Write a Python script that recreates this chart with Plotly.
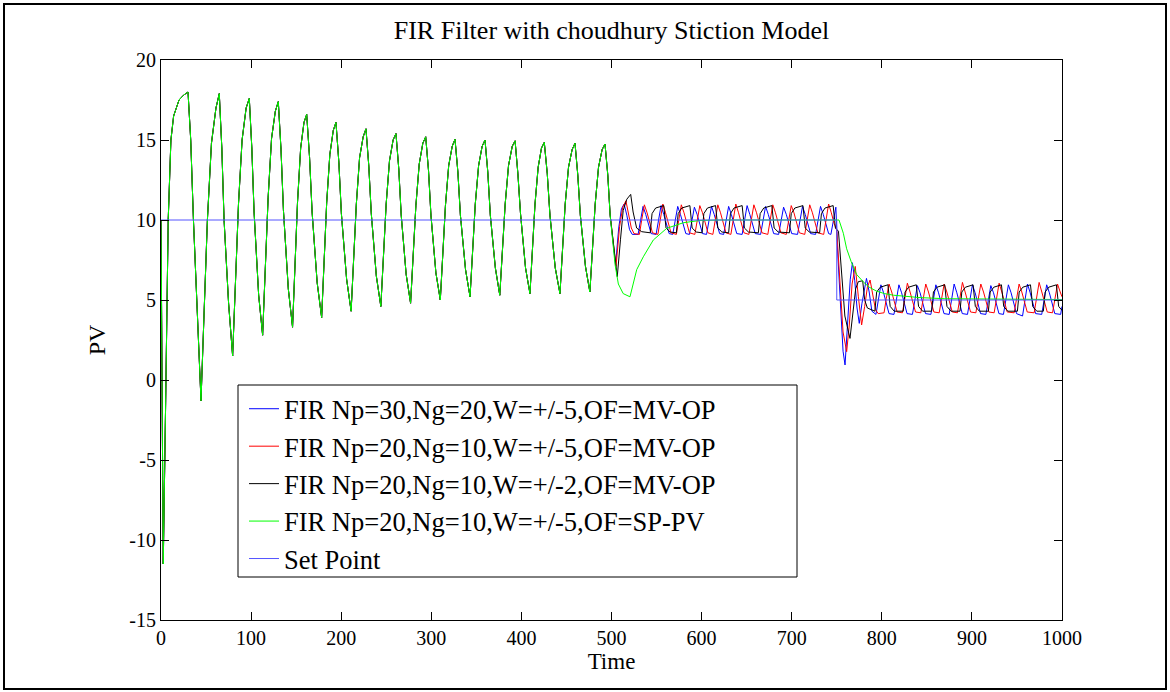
import plotly.graph_objects as go

# ---------------- data ----------------
# Part shared by all four controller runs (t <= 498.5), the curves coincide there
COMMON_T = [0, 2.5, 5, 8, 11, 14, 20, 25, 30, 33, 36, 40, 44.4,
            48, 51.5, 56, 61, 64.7, 67.5, 70, 75, 79.5,
            82.6, 86, 90, 94.5, 98, 100.8, 103.3, 108.4, 112.8,
            115.8, 118.9, 122.7, 126.9, 130.2, 133.2, 135.9, 141.3, 146,
            148.7, 151.5, 155, 158.7, 161.7, 164.9, 167.7, 173.3, 178.3,
            181, 183.9, 187.4, 191.2, 194.2, 197.4, 200.2, 206, 211,
            213.8, 216.8, 220.4, 224.4, 227.5, 230.6, 233.4, 239, 244,
            246.9, 249.9, 253.6, 257.6, 260.8, 263.9, 266.6, 272.1, 277,
            279.9, 282.9, 286.6, 290.6, 293.8, 296.9, 299.6, 305.1, 310,
            312.8, 315.7, 319.3, 323.2, 326.3, 329.5, 332.3, 338, 343,
            345.8, 348.8, 352.5, 356.4, 359.6, 362.7, 365.5, 371.1, 376,
            378.9, 382, 385.7, 389.8, 393, 396.1, 399, 404.6, 409.5,
            412.2, 415.1, 418.6, 422.3, 425.4, 428.7, 431.7, 437.6, 442.8,
            445.6, 448.6, 452.3, 456.3, 459.5, 462.6, 465.4, 471.1, 476,
            478.9, 481.9, 485.6, 489.6, 492.8, 495.9, 498.5]
COMMON_V = [10, -11.5, -2, 10, 15, 16.5, 17.5, 17.8, 18.0, 15, 10, 4.5, -1.3,
            4.5, 10, 14.8, 17.0, 17.9, 14.5, 10, 4.8, 1.5,
            6.3, 11.0, 15.0, 17.0, 17.6, 14.5, 10.5, 5.3, 2.8,
            7.2, 11.4, 15.1, 16.8, 17.4, 14.4, 10.6, 5.7, 3.3,
            7.3, 11.1, 14.5, 16.1, 16.6, 13.9, 10.5, 6.1, 3.9,
            7.6, 11.1, 14.1, 15.6, 16.1, 13.6, 10.4, 6.3, 4.3,
            7.7, 11.0, 13.9, 15.2, 15.7, 13.4, 10.4, 6.5, 4.6,
            7.8, 11.0, 13.7, 15.0, 15.4, 13.2, 10.3, 6.6, 4.8,
            7.9, 10.9, 13.5, 14.8, 15.2, 13.1, 10.3, 6.7, 5.0,
            8.0, 10.9, 13.4, 14.6, 15.05, 13.0, 10.3, 6.9, 5.2,
            8.1, 11.0, 13.4, 14.6, 15.0, 13.0, 10.3, 7.0, 5.3,
            8.2, 11.0, 13.4, 14.6, 14.95, 12.9, 10.4, 7.0, 5.4,
            8.2, 11.0, 13.3, 14.5, 14.85, 12.9, 10.3, 7.0, 5.4,
            8.2, 11.0, 13.3, 14.4, 14.8, 12.8, 10.3, 7.1, 5.5,
            8.3, 11.0, 13.3, 14.4, 14.75, 12.8, 10.3]

BLUE_T = [501.5, 504.5, 508, 511, 514, 517, 520, 523,
          529.5, 532, 534, 535, 538, 541, 544,
          549.5, 552, 554, 555, 558, 561, 564,
          568, 570.5, 572.5, 573.5, 576.5, 579.5, 582.5,
          586.5, 589, 591, 592, 595, 598, 601,
          605.5, 608, 610, 611, 614, 617, 620,
          624.5, 627, 629, 630, 633, 636, 639,
          645, 647.5, 649.5, 650.5, 653.5, 656.5, 659.5,
          665.5, 668, 670, 671, 674, 677, 680,
          685.5, 688, 690, 691, 694, 697, 700,
          706.5, 709, 711, 712, 715, 718, 721,
          726.5, 729, 731, 732, 735, 738, 741,
          743.5, 746, 748, 749, 751, 754, 757, 759.2, 762, 765, 767.4, 770,
          772.5, 775, 778, 781, 783, 786, 789,
          793.5, 796, 798, 799, 802, 805, 808,
          813.5, 816, 818, 819, 822, 825, 828,
          834, 836.5, 838.5, 839.5, 842.5, 845.5, 848.5,
          854.5, 857, 859, 860, 863, 866, 869,
          874.8, 877.3, 879.3, 880.3, 883.3, 886.3, 889.3,
          895.1, 897.6, 899.6, 900.6, 903.6, 906.6, 909.6,
          915.5, 918, 920, 921, 924, 927, 930,
          935, 937.5, 939.5, 940.5, 943.5, 946.5, 949.5,
          956.2, 958.7, 960.7, 961.7, 964.7, 967.7, 970.7,
          977.5, 980, 982, 983, 986, 989, 992,
          998.5, 1000]
BLUE_V = [8.7, 7.2, 9.5, 10.7, 11.0, 10.3, 9.4, 9.1,
          9.1, 10.0, 10.7, 10.85, 10.35, 9.75, 9.15,
          9.1, 10.0, 10.7, 10.9, 10.35, 9.75, 9.15,
          9.1, 10.0, 10.7, 10.85, 10.35, 9.75, 9.15,
          9.1, 10.0, 10.7, 10.8, 10.35, 9.75, 9.15,
          9.1, 10.0, 10.7, 10.85, 10.35, 9.75, 9.15,
          9.1, 10.0, 10.7, 10.85, 10.35, 9.75, 9.15,
          9.1, 10.0, 10.7, 10.9, 10.35, 9.75, 9.15,
          9.1, 10.0, 10.7, 10.85, 10.35, 9.75, 9.15,
          9.1, 10.0, 10.7, 10.8, 10.35, 9.75, 9.15,
          9.1, 10.0, 10.7, 10.85, 10.35, 9.75, 9.15,
          9.1, 10.0, 10.7, 10.85, 10.35, 9.75, 9.15,
          9.1, 10.0, 10.6, 10.8, 8.0, 4.5, 1.8, 0.94, 3.5, 6.3, 7.33, 6.2,
          4.5, 3.54, 4.8, 5.9, 6.35, 5.5, 4.3,
          4.1, 5.0, 5.8, 5.95, 5.45, 4.8, 4.15,
          4.1, 5.0, 5.8, 5.95, 5.45, 4.8, 4.15,
          4.1, 5.0, 5.8, 5.9, 5.45, 4.8, 4.15,
          4.1, 5.0, 5.8, 5.95, 5.45, 4.8, 4.15,
          4.1, 5.0, 5.8, 6.0, 5.45, 4.8, 4.15,
          4.1, 5.0, 5.8, 5.95, 5.45, 4.8, 4.15,
          4.1, 5.0, 5.8, 5.9, 5.45, 4.8, 4.15,
          4.1, 5.0, 5.8, 5.95, 5.45, 4.8, 4.15,
          4.0, 5.0, 5.8, 6.0, 5.45, 4.8, 4.15,
          4.1, 5.0, 5.8, 5.95, 5.45, 4.8, 4.15,
          4.1, 4.6]

RED_T = [501.5, 505, 509, 512.5, 516, 519, 522, 525,
         531, 533.5, 535.5, 536.5, 539.5, 542.5, 545.5,
         551.5, 554, 556, 557, 560, 563, 566,
         572, 574.5, 576.5, 577.5, 580.5, 583.5, 586.5,
         592.5, 595, 597, 598, 601, 604, 607,
         612.5, 615, 617, 618, 621, 624, 627,
         632.5, 635, 637, 638, 641, 644, 647,
         652.5, 655, 657, 658, 661, 664, 667,
         673.5, 676, 678, 679, 682, 685, 688,
         694, 696.5, 698.5, 699.5, 702.5, 705.5, 708.5,
         714.5, 717, 719, 720, 723, 726, 729,
         735.5, 738, 740, 741, 744, 747,
         750, 753, 757, 761, 764, 767, 770.5, 774, 777.6, 781, 784, 787,
         790, 793, 796,
         802.5, 805, 807, 808, 811, 814, 817,
         822.9, 825.4, 827.4, 828.4, 831.4, 834.4, 837.4,
         843.3, 845.8, 847.8, 848.8, 851.8, 854.8, 857.8,
         863.7, 866.2, 868.2, 869.2, 872.2, 875.2, 878.2,
         884, 886.5, 888.5, 889.5, 892.5, 895.5, 898.5,
         904.4, 906.9, 908.9, 909.9, 912.9, 915.9, 918.9,
         924.7, 927.2, 929.2, 930.2, 933.2, 936.2, 939.2,
         946.9, 949.4, 951.4, 952.4, 955.4, 958.4, 961.4,
         969.1, 971.6, 973.6, 974.6, 977.6, 980.6, 983.6,
         989.5, 992, 994, 995, 998, 1000]
RED_V = [8.8, 7.1, 9.6, 10.8, 11.2, 10.4, 9.5, 9.15,
         9.1, 10.0, 10.8, 10.95, 10.45, 9.8, 9.2,
         9.1, 10.0, 10.8, 11.0, 10.45, 9.8, 9.2,
         9.1, 10.0, 10.8, 10.95, 10.45, 9.8, 9.2,
         9.1, 10.0, 10.8, 10.9, 10.45, 9.8, 9.2,
         9.1, 10.0, 10.8, 10.95, 10.45, 9.8, 9.2,
         9.1, 10.0, 10.8, 11.0, 10.45, 9.8, 9.2,
         9.1, 10.0, 10.8, 10.95, 10.45, 9.8, 9.2,
         9.1, 10.0, 10.8, 10.95, 10.45, 9.8, 9.2,
         9.1, 10.0, 10.8, 10.9, 10.45, 9.8, 9.2,
         9.1, 10.0, 10.8, 10.95, 10.45, 9.8, 9.2,
         9.1, 10.0, 10.8, 11.0, 10.45, 9.8,
         9.35, 6.5, 3.0, 1.77, 3.5, 6.0, 7.1, 5.2, 3.44, 4.6, 5.8, 6.25,
         5.3, 4.4, 4.15,
         4.2, 5.1, 5.85, 6.0, 5.5, 4.85, 4.25,
         4.2, 5.1, 5.85, 6.05, 5.5, 4.85, 4.25,
         4.2, 5.1, 5.85, 6.0, 5.5, 4.85, 4.25,
         4.2, 5.1, 5.85, 6.0, 5.5, 4.85, 4.25,
         4.2, 5.1, 5.85, 6.1, 5.5, 4.85, 4.25,
         4.2, 5.1, 5.85, 6.0, 5.5, 4.85, 4.25,
         4.2, 5.1, 5.85, 6.05, 5.5, 4.85, 4.25,
         4.2, 5.1, 5.85, 6.0, 5.5, 4.85, 4.25,
         4.2, 5.1, 5.85, 6.1, 5.5, 4.85, 4.25,
         4.2, 5.1, 5.85, 6.0, 5.5, 5.2]

BLACK_T = [501.5, 506.4, 510, 513, 517, 521.3, 524, 527.9, 533.5,
           543, 545, 549, 558, 560.5, 565,
           572, 574, 578, 587, 589.5, 594,
           600.5, 602.5, 606.5, 615.5, 618, 622.5,
           630, 632, 636, 645, 647.5, 652,
           663, 665, 669, 678, 680.5, 685,
           697.5, 699.5, 703.5, 712.5, 715, 719.5,
           731, 733, 737, 746, 748.5, 751.9, 755, 759, 764.7, 768, 771, 774,
           778.8, 781, 784,
           792.3, 794.3, 798.3, 806.8, 809.3, 813.8,
           823.8, 825.8, 829.8, 838.3, 840.8, 845.3,
           855.3, 857.3, 861.3, 869.8, 872.3, 876.8,
           886.8, 888.8, 892.8, 901.3, 903.8, 908.3,
           918.3, 920.3, 924.3, 932.8, 935.3, 939.8,
           950.5, 952.5, 956.5, 965, 967.5, 972,
           979.3, 981.3, 985.3, 993.8, 996.3, 1000]
BLACK_V = [8.9, 6.46, 8.8, 10.6, 11.3, 11.6, 10.5, 9.5, 9.27,
           9.2, 10.4, 10.75, 10.9, 9.5, 9.25,
           9.2, 10.4, 10.75, 10.9, 9.5, 9.25,
           9.2, 10.4, 10.75, 10.9, 9.5, 9.25,
           9.2, 10.4, 10.75, 10.9, 9.5, 9.25,
           9.2, 10.4, 10.75, 10.9, 9.5, 9.25,
           9.2, 10.4, 10.75, 10.9, 9.5, 9.25,
           9.2, 10.4, 10.75, 10.9, 9.5, 9.3, 7.0, 4.0, 2.6, 4.3, 5.7, 6.15,
           6.2, 5.0, 4.5,
           4.3, 5.5, 5.8, 5.95, 4.6, 4.3,
           4.3, 5.5, 5.8, 5.95, 4.6, 4.3,
           4.3, 5.5, 5.8, 5.95, 4.6, 4.3,
           4.3, 5.5, 5.8, 5.95, 4.6, 4.3,
           4.3, 5.5, 5.8, 5.95, 4.6, 4.3,
           4.3, 5.5, 5.8, 5.95, 4.6, 4.3,
           4.3, 5.5, 5.8, 5.95, 4.6, 4.35]

GREEN_T = [501.5, 504, 507.6, 513, 520.5, 524.2, 528, 535.3, 546.4, 561.3,
           579.7, 598, 620, 700, 752.5, 757.3, 761, 766, 772, 780, 786,
           794.3, 803, 812.8, 825, 842.4, 870, 1000]
GREEN_V = [8.5, 7.2, 6.0, 5.4, 5.2, 6.0, 6.9, 7.7, 8.75, 9.48,
           9.83, 9.97, 10.0, 10.0, 10.0, 9.17, 8.2, 7.4, 6.6, 6.1, 5.8,
           5.55, 5.4, 5.3, 5.22, 5.15, 5.08, 5.03]

SP_T = [0, 750, 750, 1000]
SP_V = [10, 10, 5, 5]

NAMES = ["FIR Np=30,Ng=20,W=+/-5,OF=MV-OP",
         "FIR Np=20,Ng=10,W=+/-5,OF=MV-OP",
         "FIR Np=20,Ng=10,W=+/-2,OF=MV-OP",
         "FIR Np=20,Ng=10,W=+/-5,OF=SP-PV",
         "Set Point"]
COLORS = ["#0000ff", "#ff0000", "#000000", "#00ff00", "#5555ff"]

X_TICKS = [0, 100, 200, 300, 400, 500, 600, 700, 800, 900, 1000]
Y_TICKS = [-15, -10, -5, 0, 5, 10, 15, 20]

# ---------------- figure ----------------
FONT = "Liberation Serif, Times New Roman, serif"
series = [
    (COMMON_T + BLUE_T, COMMON_V + BLUE_V),
    (COMMON_T + RED_T, COMMON_V + RED_V),
    (COMMON_T + BLACK_T, COMMON_V + BLACK_V),
    (COMMON_T + GREEN_T, COMMON_V + GREEN_V),
    (SP_T, SP_V),
]

fig = go.Figure()
for i, ((xs, ys), name, col) in enumerate(zip(series, NAMES, COLORS)):
    fig.add_trace(go.Scatter(x=xs, y=ys, mode="lines", name=name,
                             line=dict(color=col, width=1)))

L, R, T, B = 161, 108, 60, 72
W, H = 1170, 692
pw, ph = W - L - R, H - T - B

def px2paper_x(p):
    return (p - L) / pw

def px2paper_y(p):
    return (H - B - p) / ph

axis_common = dict(showgrid=False, zeroline=False, showline=True, linecolor="black",
                   linewidth=1, mirror="ticks", ticks="inside", ticklen=8,
                   tickcolor="black", tickfont=dict(family=FONT, size=20, color="black"))

fig.update_layout(
    width=W, height=H,
    margin=dict(l=L, r=R, t=T, b=B),
    paper_bgcolor="white", plot_bgcolor="white",
    font=dict(family=FONT, color="black"),
    title=dict(text="FIR Filter with choudhury Stiction Model", x=0.5, xref="paper",
               y=1 - 30 / H, yref="container", yanchor="middle", xanchor="center",
               font=dict(family=FONT, size=26, color="black")),
    xaxis=dict(range=[0, 1000], tickvals=X_TICKS, ticktext=[str(v) for v in X_TICKS],
               title=dict(text="Time", font=dict(family=FONT, size=23), standoff=4),
               **axis_common),
    yaxis=dict(range=[-15, 20], tickvals=Y_TICKS, ticktext=[str(v) for v in Y_TICKS],
               title=dict(text="PV", font=dict(family=FONT, size=24), standoff=16),
               **axis_common),
    legend=dict(x=px2paper_x(244), y=px2paper_y(385), xanchor="left", yanchor="top",
                bgcolor="rgba(0,0,0,0)", borderwidth=0, tracegroupgap=0,
                font=dict(family=FONT, size=26.5, color="black")),
    showlegend=True,
    shapes=[
        # legend box
        dict(type="rect", xref="paper", yref="paper", layer="above",
             x0=px2paper_x(238), x1=px2paper_x(797), y0=px2paper_y(577), y1=px2paper_y(385),
             fillcolor="white", line=dict(color="black", width=1)),
        # outer figure border
        dict(type="rect", xref="paper", yref="paper", layer="above",
             x0=px2paper_x(4), x1=px2paper_x(1166), y0=px2paper_y(689), y1=px2paper_y(4),
             fillcolor="rgba(0,0,0,0)", line=dict(color="black", width=2)),
    ],
)

fig.write_html("out.html", config={"displayModeBar": False},
               post_script="document.body.style.margin='0';")
